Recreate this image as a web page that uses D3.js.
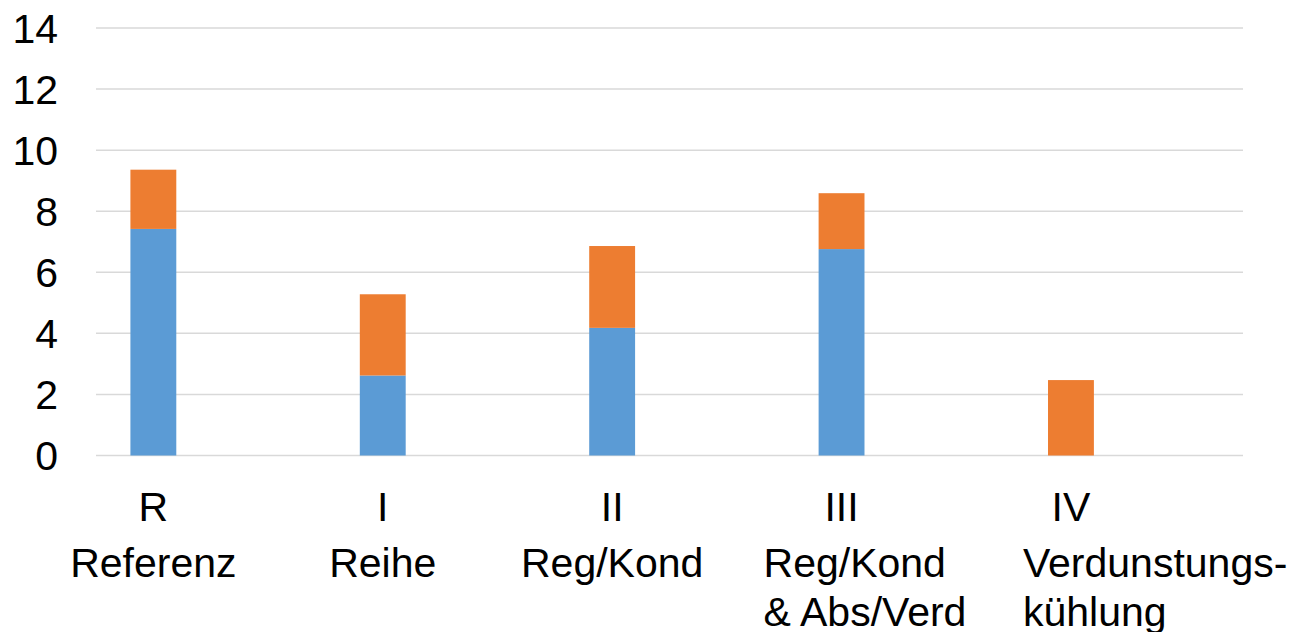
<!DOCTYPE html>
<html>
<head>
<meta charset="utf-8">
<script src="https://cdn.jsdelivr.net/npm/d3@7"></script>
<style>
  html, body { margin: 0; padding: 0; background: #fff; }
  svg { display: block; font-family: "Liberation Sans", Arial, sans-serif; }
</style>
</head>
<body>
<svg id="chart" width="1296" height="632"></svg>
<script>
// Category data
const categories = ["R", "I", "II", "III", "IV"];
const categoryNames = [["Referenz"], ["Reihe"], ["Reg/Kond"], ["Reg/Kond", "& Abs/Verd"], ["Verdunstungs-", "kühlung"]];
// Stacked series (lower segment first)
const seriesBlue = [7.42, 2.62, 4.18, 6.76, 0];
const seriesOrange = [1.94, 2.66, 2.68, 1.83, 2.47];
const yTicks = [0, 2, 4, 6, 8, 10, 12, 14];

const colors = { blue: "#5B9BD5", orange: "#ED7D31" };

const svg = d3.select("#chart");
const plot = { left: 96, right: 1243, top: 28, bottom: 455.5 };

const x = d3.scaleBand().domain(categories).range([plot.left, plot.right]).padding(0);
const y = d3.scaleLinear().domain([0, 14]).range([plot.bottom, plot.top]);

// Bars sit at the first quarter of each category slot
const barW = x.bandwidth() * 0.2;
const barCenter = c => x(c) + x.bandwidth() * 0.25;

// Gridlines
svg.append("g")
  .selectAll("line")
  .data(yTicks)
  .join("line")
  .attr("x1", plot.left).attr("x2", plot.right)
  .attr("y1", d => y(d)).attr("y2", d => y(d))
  .attr("stroke", "#d9d9d9").attr("stroke-width", 1.5);

// Y axis labels
const yAxis = d3.axisLeft(y).tickValues(yTicks).tickSize(0).tickPadding(0);
const yg = svg.append("g").attr("transform", "translate(58,0)").call(yAxis);
yg.select(".domain").remove();
yg.selectAll("text")
  .attr("font-size", 41)
  .attr("font-family", "'Liberation Sans', Arial, sans-serif")
  .attr("fill", "#000")
  .attr("dy", "0.35em");

// Stack the series
const rows = categories.map((c, i) => ({ cat: c, blue: seriesBlue[i], orange: seriesOrange[i] }));
const stacked = d3.stack().keys(["blue", "orange"])(rows);

svg.append("g")
  .selectAll("g")
  .data(stacked)
  .join("g")
  .attr("fill", d => colors[d.key])
  .selectAll("rect")
  .data(d => d.filter(s => s[1] - s[0] > 0))
  .join("rect")
  .attr("x", d => barCenter(d.data.cat) - barW / 2)
  .attr("width", barW)
  .attr("y", d => y(d[1]))
  .attr("height", d => y(d[0]) - y(d[1]));

// Category labels: numeral line, then description lines
const nameIndent = { 3: -78, 4: -48 }; // left-aligned descriptions for the wrapped labels
const lineBase = [521, 576.5, 626];
const labels = svg.append("g").attr("font-size", 41).attr("fill", "#000");

categories.forEach((c, i) => {
  const cx = barCenter(c);
  labels.append("text")
    .attr("x", cx).attr("y", lineBase[0])
    .attr("text-anchor", "middle")
    .text(c);
  categoryNames[i].forEach((line, j) => {
    const indented = nameIndent[i] !== undefined;
    labels.append("text")
      .attr("x", indented ? cx + nameIndent[i] : cx)
      .attr("y", lineBase[j + 1])
      .attr("text-anchor", indented ? "start" : "middle")
      .text(line);
  });
});
</script>
</body>
</html>
